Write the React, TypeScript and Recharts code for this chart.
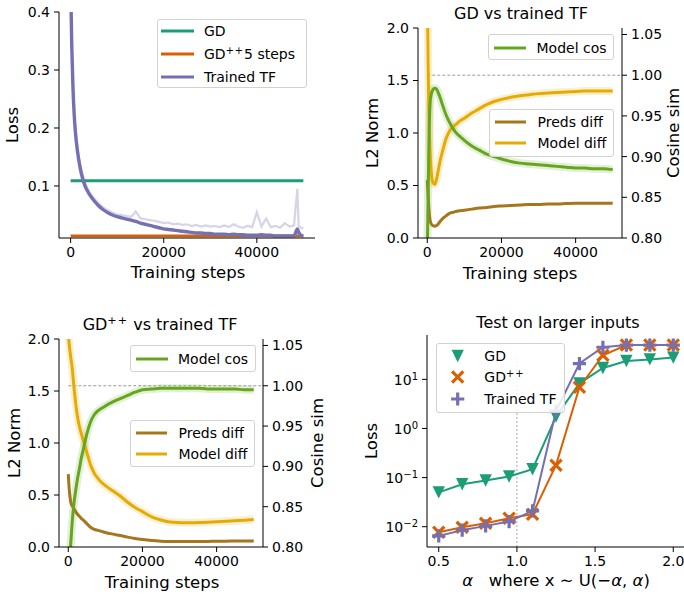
import React from "react";
import { LineChart, Line, XAxis, YAxis, ReferenceLine } from "recharts";

const FONT = "'DejaVu Sans', sans-serif";
const INK = "#000";

const TEAL = "#1b9e77";
const ORANGE = "#d95f02";
const PURPLE = "#7570b3";
const GREEN = "#66a61e";
const BROWN = "#a6761d";
const GOLD = "#e6ab02";

// ---- training loss ----
const lossSteps = [
  0, 250, 500, 750, 1000, 1500, 2000, 2500, 3000, 3500, 4000, 5000, 6000, 7000, 8000, 9000, 10000, 11000, 12000,
  13000, 14000, 15000, 16000, 17000, 18000, 19000, 20000, 21000, 22000, 23000, 24000, 25000, 26000, 27000, 28000,
  29000, 30000, 31000, 32000, 33000, 34000, 35000, 36000, 37000, 38000, 39000, 40000, 41000, 42000, 43000, 44000,
  45000, 46000, 47000, 48000, 48700, 49000, 49500, 50000,
];
const tfLoss = [
  0.45, 0.34, 0.27, 0.225, 0.195, 0.158, 0.133, 0.115, 0.102, 0.093, 0.086, 0.075, 0.066, 0.059, 0.054, 0.05, 0.047,
  0.045, 0.043, 0.041, 0.039, 0.036, 0.034, 0.032, 0.03, 0.028, 0.026, 0.025, 0.024, 0.023, 0.022, 0.021, 0.02,
  0.019, 0.019, 0.018, 0.018, 0.017, 0.017, 0.017, 0.016, 0.017, 0.016, 0.016, 0.015, 0.015, 0.015, 0.016, 0.015,
  0.015, 0.014, 0.014, 0.014, 0.014, 0.014, 0.026, 0.02, 0.015, 0.014,
];
const tfLossRaw = [
  0.45, 0.35, 0.28, 0.235, 0.2, 0.165, 0.14, 0.122, 0.108, 0.098, 0.09, 0.079, 0.07, 0.063, 0.058, 0.054, 0.051,
  0.05, 0.048, 0.047, 0.056, 0.044, 0.043, 0.041, 0.04, 0.038, 0.036, 0.037, 0.034, 0.035, 0.033, 0.034, 0.031,
  0.033, 0.03, 0.032, 0.03, 0.031, 0.029, 0.032, 0.029, 0.034, 0.03, 0.028, 0.031, 0.029, 0.055, 0.03, 0.044,
  0.029, 0.031, 0.028, 0.036, 0.03, 0.032, 0.095, 0.03, 0.028, 0.027,
];
const GD_LOSS = 0.109;
const GDPP_LOSS = 0.0138;

// ---- parameter / prediction distances ----
const normSteps = [
  0, 250, 500, 750, 1000, 1500, 2000, 2500, 3000, 3500, 4000, 5000, 6000, 7000, 8000, 9000, 10000, 12000, 14000,
  16000, 18000, 20000, 22500, 25000, 27500, 30000, 32500, 35000, 37500, 40000, 42500, 45000, 47500, 50000,
];
const gdModelDiff = [
  2.4, 1.6, 1.1, 0.82, 0.66, 0.53, 0.51, 0.56, 0.65, 0.74, 0.81, 0.94, 1.02, 1.06, 1.09, 1.12, 1.14, 1.19, 1.23,
  1.27, 1.3, 1.32, 1.34, 1.355, 1.365, 1.375, 1.38, 1.385, 1.39, 1.395, 1.4, 1.4, 1.4, 1.4,
];
const gdPredsDiff = [
  0.55, 0.4, 0.25, 0.17, 0.14, 0.118, 0.112, 0.118, 0.135, 0.16, 0.18, 0.21, 0.235, 0.245, 0.255, 0.26, 0.265,
  0.275, 0.285, 0.29, 0.3, 0.305, 0.31, 0.315, 0.32, 0.32, 0.325, 0.325, 0.328, 0.33, 0.33, 0.332, 0.332, 0.332,
];
const gdModelCos = [
  0.78, 0.86, 0.93, 0.965, 0.975, 0.982, 0.984, 0.983, 0.978, 0.972, 0.965, 0.952, 0.942, 0.934, 0.928, 0.924, 0.92,
  0.913, 0.908, 0.903, 0.9, 0.897, 0.894, 0.892, 0.891, 0.89, 0.889, 0.888, 0.887, 0.886, 0.886, 0.885, 0.885, 0.884,
];
const gdppModelDiff = [
  2.05, 1.95, 1.87, 1.8, 1.74, 1.55, 1.38, 1.25, 1.16, 1.09, 1.03, 0.91, 0.79, 0.71, 0.66, 0.62, 0.59, 0.54, 0.49,
  0.43, 0.38, 0.34, 0.29, 0.26, 0.24, 0.235, 0.232, 0.235, 0.238, 0.242, 0.248, 0.252, 0.258, 0.265,
];
const gdppPredsDiff = [
  0.7, 0.56, 0.47, 0.42, 0.4, 0.37, 0.34, 0.315, 0.295, 0.275, 0.26, 0.225, 0.19, 0.17, 0.16, 0.15, 0.14, 0.124, 0.11,
  0.095, 0.082, 0.072, 0.062, 0.056, 0.053, 0.052, 0.052, 0.052, 0.054, 0.055, 0.056, 0.057, 0.058, 0.058,
];
const gdppModelCos = [
  0.76, 0.78, 0.795, 0.81, 0.827, 0.853, 0.87, 0.885, 0.897, 0.91, 0.92, 0.94, 0.955, 0.964, 0.969, 0.972, 0.975,
  0.98, 0.984, 0.988, 0.992, 0.995, 0.996, 0.997, 0.997, 0.997, 0.997, 0.997, 0.996, 0.996, 0.996, 0.996, 0.995,
  0.995,
];

// ---- larger inputs ----
const alphas = [0.5, 0.65, 0.8, 0.95, 1.1, 1.25, 1.4, 1.55, 1.7, 1.85, 2.0];
const gdTest = [0.05, 0.073, 0.087, 0.105, 0.148, 1.75, 8.3, 17, 23.6, 25.5, 27.7];
const gdppTest = [0.0077, 0.0097, 0.0117, 0.0148, 0.018, 0.179, 6.9, 31, 50, 50, 50];
const tfTest = [0.0065, 0.0085, 0.0104, 0.0127, 0.021, 2.25, 21, 45, 50, 50, 50];

const lossTable = lossSteps.map((step, i) => ({
  step,
  gd: GD_LOSS,
  gdpp: GDPP_LOSS,
  tf: tfLoss[i],
  tfRaw: tfLossRaw[i],
}));
const gdTable = normSteps.map((step, i) => ({
  step,
  model: gdModelDiff[i],
  preds: gdPredsDiff[i],
  cos: gdModelCos[i],
}));
const gdppTable = normSteps.map((step, i) => ({
  step,
  model: gdppModelDiff[i],
  preds: gdppPredsDiff[i],
  cos: gdppModelCos[i],
}));
const testTable = alphas.map((alpha, i) => ({
  alpha,
  gd: gdTest[i],
  gdpp: gdppTest[i],
  tf: tfTest[i],
}));

const H = 594;
const YW = 50;
const XH = 30;

type Box = { x0: number; x1: number; y0: number; y1: number };
const P1: Box = { x0: 59, x1: 315, y0: 12, y1: 238 };
const P2: Box = { x0: 418, x1: 622, y0: 28, y1: 238 };
const P3: Box = { x0: 59, x1: 263, y0: 339, y1: 547 };
const P4: Box = { x0: 427, x1: 685, y0: 335, y1: 547 };

const marginFor = (b: Box, w: number, twin: boolean) => ({
  top: b.y0,
  left: b.x0 - YW,
  right: w - b.x1 - (twin ? YW : 0),
  bottom: H - b.y1 - XH,
});

const axis = {
  type: "number" as const,
  allowDataOverflow: true,
  tickSize: 5,
  tickMargin: 4,
  tick: { fill: INK, fontSize: 14, fontFamily: FONT },
  axisLine: { stroke: INK, strokeWidth: 1 },
  tickLine: { stroke: INK, strokeWidth: 1 },
};

const stepAxis = (
  <XAxis {...axis} dataKey="step" height={XH} domain={[-2500, 52500]} ticks={[0, 20000, 40000]} />
);

// log axis label: 10 with a raised exponent
function PowTick({ x, y, payload }: any) {
  const e = Math.round(Math.log10(payload.value));
  return (
    <text x={x} y={y} dy="0.4em" textAnchor="end" fontSize={14} fontFamily={FONT} fill={INK}>
      10
      <tspan dy="-0.5em" fontSize={10}>
        {e < 0 ? "−" + -e : String(e)}
      </tspan>
    </text>
  );
}

function TriDown({ cx, cy, r = 6.2 }: { cx: number; cy: number; r?: number }) {
  return <path d={`M${cx - r},${cy - r}L${cx + r},${cy - r}L${cx},${cy + r}Z`} fill={TEAL} />;
}
function Cross({ cx, cy, r = 5.6 }: { cx: number; cy: number; r?: number }) {
  return (
    <path
      d={`M${cx - r},${cy - r}L${cx + r},${cy + r}M${cx - r},${cy + r}L${cx + r},${cy - r}`}
      stroke={ORANGE}
      strokeWidth={3.2}
      fill="none"
    />
  );
}
function Plus({ cx, cy, r = 6.6 }: { cx: number; cy: number; r?: number }) {
  return (
    <path d={`M${cx - r},${cy}L${cx + r},${cy}M${cx},${cy - r}L${cx},${cy + r}`} stroke={PURPLE} strokeWidth={3.2} fill="none" />
  );
}

function Txt({
  x,
  y,
  size,
  rotate,
  children,
}: {
  x: number;
  y: number;
  size: number;
  rotate?: boolean;
  children: React.ReactNode;
}) {
  return (
    <div
      style={{
        position: "absolute",
        left: x,
        top: y,
        fontSize: size,
        lineHeight: 1,
        whiteSpace: "pre",
        transform: `translate(-50%, -50%)${rotate ? " rotate(-90deg)" : ""}`,
      }}
    >
      {children}
    </div>
  );
}

const PlusPlus = () => (
  <span style={{ fontSize: "0.7em", position: "relative", top: "-0.55em", letterSpacing: 1 }}>++</span>
);

type Row = { label: React.ReactNode; sample: React.ReactNode };
function LegendBox({
  left,
  top,
  width,
  height,
  rows,
  first,
  gap,
  textX,
}: {
  left: number;
  top: number;
  width: number;
  height: number;
  rows: Row[];
  first: number;
  gap: number;
  textX: number;
}) {
  return (
    <div
      style={{
        position: "absolute",
        left,
        top,
        width,
        height,
        boxSizing: "border-box",
        border: "1px solid #d2d2d2",
        borderRadius: 3,
        background: "rgba(255,255,255,0.85)",
        fontSize: 14,
      }}
    >
      {rows.map((r, i) => (
        <div key={i} style={{ position: "absolute", left: 0, top: first + i * gap, width: "100%" }}>
          <svg width={textX} height={16} style={{ position: "absolute", left: 0, top: -8 }}>
            {r.sample}
          </svg>
          <div style={{ position: "absolute", left: textX, top: -8, lineHeight: "16px", whiteSpace: "nowrap" }}>
            {r.label}
          </div>
        </div>
      ))}
    </div>
  );
}

const swatch = (color: string, x0 = 4, x1 = 36) => (
  <line x1={x0} x2={x1} y1={8} y2={8} stroke={color} strokeWidth={3} />
);

function LossChart() {
  return (
    <LineChart width={684} height={H} data={lossTable} margin={marginFor(P1, 684, false)}>
      {stepAxis}
      <YAxis
        {...axis}
        width={YW}
        domain={[0.0103, 0.4]}
        ticks={[0.1, 0.2, 0.3, 0.4]}
        tickFormatter={(v: number) => v.toFixed(1)}
      />
      <Line dataKey="gd" stroke={TEAL} strokeWidth={2.8} dot={false} isAnimationActive={false} />
      <Line dataKey="gdpp" stroke={ORANGE} strokeWidth={2.8} dot={false} isAnimationActive={false} />
      <Line dataKey="tfRaw" stroke={PURPLE} strokeOpacity={0.3} strokeWidth={2.2} dot={false} isAnimationActive={false} />
      <Line type="monotone" dataKey="tf" stroke={PURPLE} strokeWidth={3.4} dot={false} isAnimationActive={false} />
    </LineChart>
  );
}

function NormChart({ data, box }: { data: typeof gdTable; box: Box }) {
  return (
    <LineChart width={684} height={H} data={data} margin={marginFor(box, 684, true)}>
      {stepAxis}
      <YAxis
        {...axis}
        yAxisId="left"
        width={YW}
        domain={[0, 2]}
        ticks={[0, 0.5, 1, 1.5, 2]}
        tickFormatter={(v: number) => v.toFixed(1)}
      />
      <YAxis
        {...axis}
        yAxisId="right"
        orientation="right"
        width={YW}
        domain={[0.8, 1.058]}
        ticks={[0.8, 0.85, 0.9, 0.95, 1.0, 1.05]}
        tickFormatter={(v: number) => v.toFixed(2)}
      />
      <ReferenceLine
        yAxisId="right"
        segment={[
          { x: 0, y: 1 },
          { x: 52500, y: 1 },
        ]}
        stroke="#999"
        strokeDasharray="3 2"
        strokeWidth={1}
      />
      {/* faint spread around the model curves */}
      <Line yAxisId="left" type="monotone" dataKey="model" stroke={GOLD} strokeOpacity={0.18} strokeWidth={8} dot={false} isAnimationActive={false} />
      <Line yAxisId="right" type="monotone" dataKey="cos" stroke={GREEN} strokeOpacity={0.18} strokeWidth={8} dot={false} isAnimationActive={false} />
      <Line yAxisId="left" type="monotone" dataKey="preds" stroke={BROWN} strokeWidth={3} dot={false} isAnimationActive={false} />
      <Line yAxisId="left" type="monotone" dataKey="model" stroke={GOLD} strokeWidth={3} dot={false} isAnimationActive={false} />
      <Line yAxisId="right" type="monotone" dataKey="cos" stroke={GREEN} strokeWidth={3} dot={false} isAnimationActive={false} />
    </LineChart>
  );
}

function TestChart() {
  return (
    <LineChart width={700} height={H} data={testTable} margin={marginFor(P4, 700, false)}>
      <XAxis
        {...axis}
        dataKey="alpha"
        height={XH}
        domain={[0.425, 2.075]}
        ticks={[0.5, 1.0, 1.5, 2.0]}
        tickFormatter={(v: number) => v.toFixed(1)}
      />
      <YAxis
        {...axis}
        width={YW}
        scale="log"
        domain={[0.00386, 80]}
        ticks={[0.01, 0.1, 1, 10]}
        tick={<PowTick />}
      />
      <ReferenceLine
        segment={[
          { x: 1, y: 0.00386 },
          { x: 1, y: 30 },
        ]}
        stroke="#aaa"
        strokeDasharray="2 2"
        strokeWidth={1}
      />
      <Line
        dataKey="gd"
        stroke={TEAL}
        strokeWidth={2}
        isAnimationActive={false}
        dot={(p: any) => <TriDown key={`g${p.index}`} cx={p.cx} cy={p.cy} />}
      />
      <Line
        dataKey="gdpp"
        stroke={ORANGE}
        strokeWidth={2}
        isAnimationActive={false}
        dot={(p: any) => <Cross key={`o${p.index}`} cx={p.cx} cy={p.cy} />}
      />
      <Line
        dataKey="tf"
        stroke={PURPLE}
        strokeWidth={2}
        isAnimationActive={false}
        dot={(p: any) => <Plus key={`p${p.index}`} cx={p.cx} cy={p.cy} />}
      />
    </LineChart>
  );
}

const layer: React.CSSProperties = { position: "absolute", left: 0, top: 0 };

export default function App() {
  return (
    <div
      style={{
        position: "absolute",
        left: 0,
        top: 0,
        width: 684,
        height: H,
        overflow: "hidden",
        background: "#fff",
        fontFamily: FONT,
        color: INK,
      }}
    >
      <div style={layer}>
        <LossChart />
      </div>
      <div style={layer}>
        <NormChart data={gdTable} box={P2} />
      </div>
      <div style={layer}>
        <NormChart data={gdppTable} box={P3} />
      </div>
      <div style={layer}>
        <TestChart />
      </div>

      {/* panel 1 */}
      <Txt x={13} y={125} size={16.5} rotate>
        Loss
      </Txt>
      <Txt x={188} y={273} size={16.5}>
        Training steps
      </Txt>
      <LegendBox
        left={157}
        top={19}
        width={150}
        height={69}
        first={11}
        gap={23}
        textX={46}
        rows={[
          { label: "GD", sample: swatch(TEAL, 3, 36) },
          {
            label: (
              <>
                GD
                <PlusPlus />5 steps
              </>
            ),
            sample: swatch(ORANGE, 3, 36),
          },
          { label: "Trained TF", sample: swatch(PURPLE, 3, 36) },
        ]}
      />

      {/* panel 2 */}
      <Txt x={521} y={14} size={16}>
        GD vs trained TF
      </Txt>
      <Txt x={373} y={133} size={16.5} rotate>
        L2 Norm
      </Txt>
      <Txt x={674} y={133} size={16.5} rotate>
        Cosine sim
      </Txt>
      <Txt x={520} y={274} size={16.5}>
        Training steps
      </Txt>
      <LegendBox
        left={488}
        top={34}
        width={126}
        height={26}
        first={12.5}
        gap={0}
        textX={47.5}
        rows={[{ label: "Model cos", sample: swatch(GREEN, 5, 37) }]}
      />
      <LegendBox
        left={489}
        top={109}
        width={125}
        height={48}
        first={11.5}
        gap={21.7}
        textX={47.5}
        rows={[
          { label: "Preds diff", sample: swatch(BROWN, 5, 36) },
          { label: "Model diff", sample: swatch(GOLD, 5, 36) },
        ]}
      />

      {/* panel 3 */}
      <Txt x={160} y={325} size={16}>
        GD
        <PlusPlus /> vs trained TF
      </Txt>
      <Txt x={15} y={443} size={16.5} rotate>
        L2 Norm
      </Txt>
      <Txt x={318} y={443} size={16.5} rotate>
        Cosine sim
      </Txt>
      <Txt x={162} y={583} size={16.5}>
        Training steps
      </Txt>
      <LegendBox
        left={129.5}
        top={345}
        width={126}
        height={27}
        first={12.5}
        gap={0}
        textX={47.5}
        rows={[{ label: "Model cos", sample: swatch(GREEN, 5, 37) }]}
      />
      <LegendBox
        left={130}
        top={420}
        width={125}
        height={47}
        first={11.5}
        gap={21.7}
        textX={47.5}
        rows={[
          { label: "Preds diff", sample: swatch(BROWN, 5, 36) },
          { label: "Model diff", sample: swatch(GOLD, 5, 36) },
        ]}
      />

      {/* panel 4 */}
      <Txt x={558} y={323} size={16}>
        Test on larger inputs
      </Txt>
      <Txt x={372} y={441} size={16.5} rotate>
        Loss
      </Txt>
      <Txt x={556} y={581} size={16.5}>
        <i>α</i>
        {"   where x ∼ U(−"}
        <i>α</i>, <i>α</i>)
      </Txt>
      <LegendBox
        left={436}
        top={343}
        width={129}
        height={70}
        first={11.7}
        gap={21.7}
        textX={47.3}
        rows={[
          { label: "GD", sample: <TriDown cx={20.7} cy={8} /> },
          {
            label: (
              <>
                GD
                <PlusPlus />
              </>
            ),
            sample: <Cross cx={20.7} cy={8} />,
          },
          { label: "Trained TF", sample: <Plus cx={20.7} cy={8} /> },
        ]}
      />
    </div>
  );
}
